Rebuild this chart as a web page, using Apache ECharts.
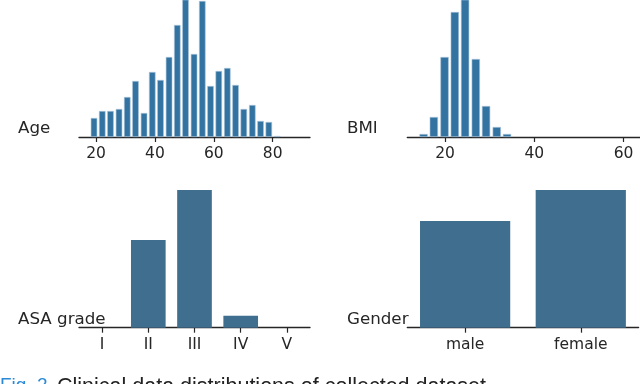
<!DOCTYPE html>
<html>
<head>
<meta charset="utf-8">
<script src="https://cdn.jsdelivr.net/npm/echarts@6/dist/echarts.min.js"></script>
<style>
	html, body { margin: 0; padding: 0; background: #fff; }
	#chart { width: 640px; height: 384px; }
</style>
</head>
<body>
<div id="chart"></div>
<script>
	// age histogram (bin centre, count)
	var ageBins = [19.3, 22.1, 24.9, 27.8, 30.6, 33.4, 36.3, 39.1, 41.9, 44.8, 47.6, 50.4, 53.3, 56.1, 58.9, 61.7, 64.6, 67.4, 70.2, 73.1, 75.9, 78.7, 81.6];
	var ageCounts = [19, 26, 26, 28, 40, 56, 24, 65, 57, 80, 112, 150, 83, 136, 51, 66, 69, 52, 28, 32, 16, 15, 1];
	var ageTicks = [20, 40, 60, 80];

	// BMI histogram
	var bmiBins = [15.2, 17.5, 19.9, 22.2, 24.5, 26.9, 29.2, 31.6, 33.9];
	var bmiCounts = [3, 20, 80, 125, 160, 78, 31, 10, 3];
	var bmiTicks = [20, 40, 60];

	// ASA grade
	var asaGrades = ['I', 'II', 'III', 'IV', 'V'];
	var asaCounts = [0, 88, 138, 12, 0];

	// gender
	var genders = ['male', 'female'];
	var genderCounts = [107, 138];

	var textColor = '#262626';
	var histColor = '#3273a1';
	var barColor = '#3f6e8e';
	var fontFam = 'DejaVu Sans';

	function pairs(xs, ys) {
		var out = [];
		for (var i = 0; i < xs.length; i++) {
			out.push([xs[i], ys[i]]);
		}
		return out;
	}

	function axisLine() {
		return { show: true, lineStyle: { color: textColor, width: 1.3 } };
	}

	function valueX(idx, min, max, ticks) {
		return {
			type: 'value', gridIndex: idx, min: min, max: max,
			splitLine: { show: false },
			axisLine: axisLine(),
			axisTick: { show: true, length: 5, lineStyle: { color: textColor, width: 1.2 }, customValues: ticks },
			axisLabel: { color: textColor, fontSize: 15.5, fontFamily: fontFam, margin: 9, customValues: ticks }
		};
	}

	function catX(idx, cats) {
		return {
			type: 'category', gridIndex: idx, data: cats, boundaryGap: true,
			axisLine: axisLine(),
			axisTick: { show: true, length: 5, alignWithLabel: true, lineStyle: { color: textColor, width: 1.2 } },
			axisLabel: { color: textColor, fontSize: 15.5, fontFamily: fontFam, margin: 9 }
		};
	}

	function hiddenY(idx, max) {
		return { type: 'value', gridIndex: idx, min: 0, max: max, show: false };
	}

	function label(text, x, y) {
		return {
			type: 'text', left: x, top: y,
			style: { text: text, fill: textColor, font: '16.7px "DejaVu Sans"' }
		};
	}

	var chart = echarts.init(document.getElementById('chart'), null, { renderer: 'canvas' });
	chart.setOption({
		animation: false,
		grid: [
			{ left: 79, top: 0, width: 231, height: 137 },
			{ left: 407.3, top: 0, width: 232.7, height: 137 },
			{ left: 79, top: 190, width: 231, height: 137.7 },
			{ left: 407.3, top: 190, width: 231.3, height: 137.7 }
		],
		xAxis: [
			valueX(0, 14.2, 92.7, ageTicks),
			valueX(1, 11.55, 63.7, bmiTicks),
			catX(2, asaGrades),
			catX(3, genders)
		],
		yAxis: [hiddenY(0, 137), hiddenY(1, 137), hiddenY(2, 138), hiddenY(3, 138)],
		series: [
			{
				type: 'bar', xAxisIndex: 0, yAxisIndex: 0, barWidth: 6.5,
				data: pairs(ageBins, ageCounts),
				itemStyle: { color: histColor, borderColor: '#a9c3d8', borderWidth: 0.6 }
			},
			{
				type: 'bar', xAxisIndex: 1, yAxisIndex: 1, barWidth: 8.3,
				data: pairs(bmiBins, bmiCounts),
				itemStyle: { color: histColor, borderColor: '#a9c3d8', borderWidth: 0.6 }
			},
			{
				type: 'bar', xAxisIndex: 2, yAxisIndex: 2, barWidth: '75%',
				data: asaCounts,
				itemStyle: { color: barColor, borderWidth: 0 }
			},
			{
				type: 'bar', xAxisIndex: 3, yAxisIndex: 3, barWidth: '78%',
				data: genderCounts,
				itemStyle: { color: barColor, borderWidth: 0 }
			}
		],
		graphic: [
			label('Age', 18, 120),
			label('BMI', 347, 120),
			label('ASA grade', 18, 311),
			label('Gender', 347, 311),
			{
				type: 'text', left: 0, top: 376,
				style: { text: 'Fig. 2.', fill: '#2a8ad8', font: '19px "Liberation Sans"' }
			},
			{
				type: 'text', left: 57, top: 376,
				style: { text: 'Clinical data distributions of collected dataset', fill: '#222', font: '21.5px "Liberation Sans"' }
			}
		]
	});
</script>
</body>
</html>
